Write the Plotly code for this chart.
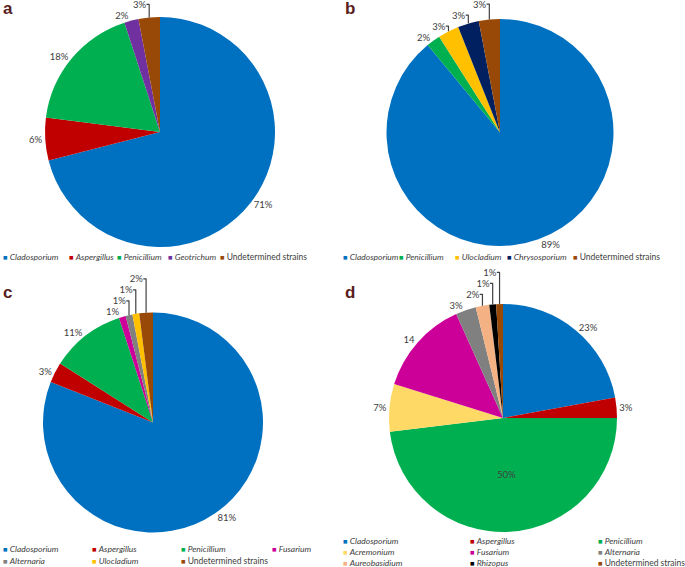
import plotly.graph_objects as go

# ---------------- data ----------------
a_labels = ["Cladosporium", "Aspergillus", "Penicillium", "Geotrichum", "Undetermined strains"]
a_values = [71, 6, 18, 2, 3]
a_text = ["71%", "6%", "18%", "2%", "3%"]

b_labels = ["Cladosporium", "Penicillium", "Ulocladium", "Chrysosporium", "Undetermined strains"]
b_values = [89, 2, 3, 3, 3]
b_text = ["89%", "2%", "3%", "3%", "3%"]

c_labels = ["Cladosporium", "Aspergillus", "Penicillium", "Fusarium", "Alternaria", "Ulocladium",
            "Undetermined strains"]
c_values = [81, 3, 11, 1, 1, 1, 2]
c_text = ["81%", "3%", "11%", "1%", "1%", "1%", "2%"]

d_labels = ["Cladosporium", "Aspergillus", "Penicillium", "Acremonium", "Fusarium", "Alternaria",
            "Aureobasidium", "Rhizopus", "Undetermined strains"]
d_values = [23, 3, 50, 7, 14, 3, 2, 1, 1]
d_text = ["23%", "3%", "50%", "7%", "14", "3%", "2%", "1%", "1%"]

# ---------------- styles ----------------
COLORS = {
    "Cladosporium": "#0070C0",
    "Aspergillus": "#C00000",
    "Penicillium": "#00B050",
    "Geotrichum": "#7030A0",
    "Undetermined strains": "#984807",
    "Ulocladium": "#FFC000",
    "Chrysosporium": "#002060",
    "Fusarium": "#CC0099",
    "Alternaria": "#808080",
    "Acremonium": "#FFD966",
    "Aureobasidium": "#F4B183",
    "Rhizopus": "#000000",
}
W, H = 685, 567
FONT = "Lato, 'Open Sans', sans-serif"
TXT = "#404040"


def px_dom(x0, x1, y0, y1):
    return dict(x=[x0 / W, x1 / W], y=[1 - y1 / H, 1 - y0 / H])


panels = [
    ("a", a_labels, a_values, a_text, px_dom(44, 276, 17, 247), None),
    ("b", b_labels, b_values, b_text, px_dom(386, 614, 19, 246), None),
    ("c", c_labels, c_values, c_text, px_dom(43, 263, 312, 533), None),
    ("d", d_labels, d_values, d_text, px_dom(389, 617, 304, 532), "Penicillium"),
]

fig = go.Figure()
for name, labels, values, text, dom, inside_lab in panels:
    pos = ["inside" if l == inside_lab else "outside" for l in labels]
    fig.add_trace(go.Pie(
        labels=labels, values=values, text=text,
        textinfo="text", textposition=pos,
        textfont=dict(size=9.5, color=TXT, family=FONT),
        insidetextfont=dict(size=9.5, color=TXT, family=FONT),
        outsidetextfont=dict(size=9.5, color=TXT, family=FONT),
        sort=False, direction="clockwise", rotation=0,
        marker=dict(colors=[COLORS[l] for l in labels], line=dict(width=0)),
        domain=dom, showlegend=False, name=name, automargin=False,
        hovertemplate="%{label}: %{text}<extra></extra>",
    ))


def label_html(lab):
    inner = lab if lab == "Undetermined strains" else f"<i>{lab}</i>"
    return f'<span style="color:{COLORS[lab]};font-size:7.5px">■</span> {inner}'


annotations = []


def add_legend_row(labels, xs, y):
    for lab, x in zip(labels, xs):
        annotations.append(dict(
            x=x / W, y=1 - y / H, xref="paper", yref="paper",
            xanchor="left", yanchor="middle", showarrow=False,
            text=label_html(lab), font=dict(size=8.5, color=TXT, family=FONT),
        ))


# legend rows (pixel positions of each entry)
add_legend_row(a_labels, [1, 67, 115, 166, 218], 257)
add_legend_row(b_labels, [341, 397, 453, 505, 571], 257)
add_legend_row(c_labels[:4], [1, 90, 179, 270], 549)
add_legend_row(c_labels[4:], [1, 90, 179], 561)
add_legend_row(d_labels[:3], [341, 468, 596], 541)
add_legend_row(d_labels[3:6], [341, 468, 596], 552)
add_legend_row(d_labels[6:], [341, 468, 596], 563)

for letter, x, y in [("a", 8, 9), ("b", 350, 9), ("c", 8, 292), ("d", 350, 292)]:
    annotations.append(dict(
        x=x / W, y=1 - y / H, xref="paper", yref="paper",
        xanchor="center", yanchor="middle", showarrow=False,
        text=f"<b>{letter}</b>", font=dict(size=17, color="#5a1e1e", family="Arial, sans-serif"),
    ))

fig.update_layout(
    width=W, height=H,
    margin=dict(l=0, r=0, t=0, b=0, autoexpand=False),
    paper_bgcolor="white", plot_bgcolor="white",
    font=dict(family=FONT, color=TXT),
    annotations=annotations,
    showlegend=False,
)

fig.write_html("out.html", config={"displayModeBar": False},
               post_script="document.body.style.margin='0';")
